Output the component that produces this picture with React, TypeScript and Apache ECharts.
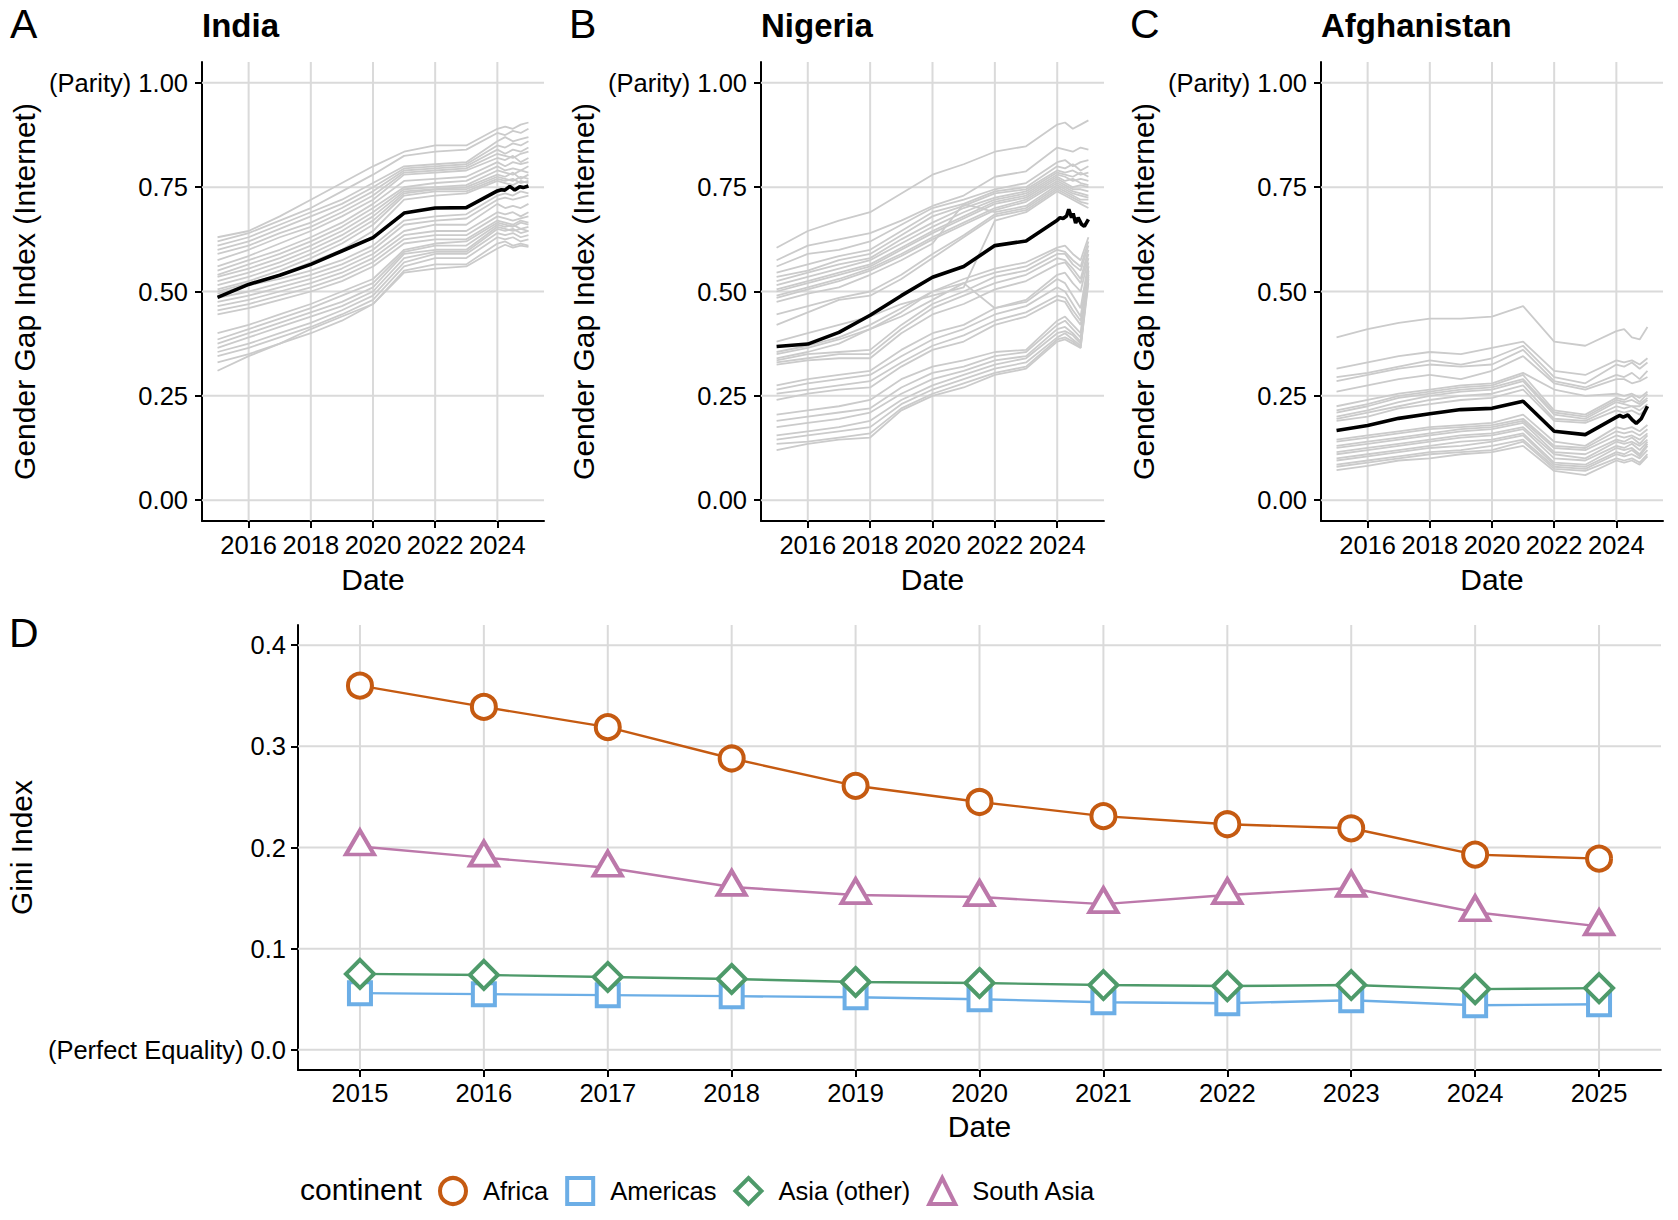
import React, { useEffect, useRef } from "react";
import * as echarts from "echarts";

// ---------------- data ----------------
const GAP_YEARS = [2015, 2016, 2017, 2018, 2019, 2020, 2021, 2022, 2023, 2024, 2024.25, 2024.5, 2024.75, 2025];
const GAP_X_TICKS = [2016, 2018, 2020, 2022, 2024];
const GAP_Y_TICKS = [0, 0.25, 0.5, 0.75, 1];
const GAP_COUNTRIES = ["India", "Nigeria", "Afghanistan"];
const PANEL_LETTERS = ["A", "B", "C", "D"];

const INDIA_X = [2015, 2016, 2017, 2018, 2019, 2020, 2021, 2022, 2023, 2024, 2024.13, 2024.24, 2024.4, 2024.56, 2024.72, 2024.83, 2025];
const INDIA_Y = [0.486, 0.517, 0.539, 0.565, 0.597, 0.629, 0.688, 0.700, 0.701, 0.741, 0.744, 0.743, 0.752, 0.743, 0.751, 0.749, 0.753];

const NIGERIA_X = [2015, 2016, 2017, 2018, 2019, 2020, 2021, 2022, 2023, 2024, 2024.09, 2024.19, 2024.3, 2024.37, 2024.46, 2024.51, 2024.59, 2024.67, 2024.78, 2024.87, 2025];
const NIGERIA_Y = [0.368, 0.374, 0.402, 0.443, 0.490, 0.534, 0.560, 0.610, 0.621, 0.671, 0.677, 0.675, 0.681, 0.697, 0.677, 0.687, 0.664, 0.677, 0.661, 0.656, 0.673];

const AFGHANISTAN_X = [2015, 2016, 2017, 2018, 2019, 2020, 2021, 2022, 2023, 2024, 2024.11, 2024.22, 2024.37, 2024.53, 2024.64, 2024.8, 2024.9, 2025];
const AFGHANISTAN_Y = [0.167, 0.179, 0.196, 0.207, 0.217, 0.220, 0.237, 0.165, 0.157, 0.199, 0.203, 0.199, 0.204, 0.191, 0.184, 0.195, 0.210, 0.225];

const GRAY_INDIA = [
  [0.63, 0.645, 0.68, 0.72, 0.76, 0.80, 0.835, 0.85, 0.85, 0.89, 0.895, 0.89, 0.90, 0.905],
  [0.62, 0.64, 0.67, 0.70, 0.74, 0.78, 0.825, 0.835, 0.84, 0.88, 0.875, 0.885, 0.88, 0.89],
  [0.61, 0.63, 0.66, 0.69, 0.72, 0.76, 0.80, 0.805, 0.81, 0.86, 0.87, 0.86, 0.865, 0.87],
  [0.60, 0.62, 0.65, 0.68, 0.71, 0.75, 0.795, 0.80, 0.805, 0.85, 0.845, 0.855, 0.85, 0.86],
  [0.59, 0.61, 0.64, 0.665, 0.70, 0.74, 0.79, 0.795, 0.80, 0.84, 0.83, 0.84, 0.835, 0.845],
  [0.575, 0.60, 0.63, 0.655, 0.69, 0.73, 0.785, 0.79, 0.795, 0.83, 0.825, 0.82, 0.83, 0.835],
  [0.56, 0.585, 0.615, 0.645, 0.68, 0.72, 0.78, 0.785, 0.79, 0.82, 0.815, 0.825, 0.81, 0.82],
  [0.55, 0.575, 0.60, 0.63, 0.665, 0.71, 0.765, 0.77, 0.775, 0.81, 0.80, 0.81, 0.805, 0.81],
  [0.54, 0.565, 0.59, 0.62, 0.655, 0.70, 0.75, 0.76, 0.765, 0.80, 0.79, 0.795, 0.79, 0.80],
  [0.535, 0.555, 0.58, 0.61, 0.645, 0.69, 0.745, 0.75, 0.755, 0.79, 0.785, 0.78, 0.79, 0.785],
  [0.525, 0.545, 0.57, 0.60, 0.635, 0.68, 0.74, 0.745, 0.75, 0.78, 0.775, 0.785, 0.77, 0.78],
  [0.515, 0.535, 0.56, 0.59, 0.625, 0.67, 0.735, 0.745, 0.745, 0.775, 0.77, 0.765, 0.775, 0.77],
  [0.505, 0.525, 0.55, 0.58, 0.615, 0.66, 0.73, 0.74, 0.74, 0.77, 0.765, 0.77, 0.76, 0.765],
  [0.50, 0.52, 0.54, 0.57, 0.60, 0.645, 0.72, 0.73, 0.735, 0.765, 0.76, 0.755, 0.765, 0.76],
  [0.495, 0.515, 0.53, 0.55, 0.575, 0.61, 0.67, 0.68, 0.685, 0.73, 0.735, 0.73, 0.74, 0.735],
  [0.485, 0.50, 0.52, 0.54, 0.565, 0.60, 0.66, 0.67, 0.675, 0.72, 0.725, 0.72, 0.725, 0.73],
  [0.475, 0.49, 0.51, 0.53, 0.555, 0.59, 0.645, 0.66, 0.66, 0.71, 0.70, 0.705, 0.70, 0.71],
  [0.465, 0.48, 0.50, 0.52, 0.545, 0.58, 0.635, 0.645, 0.645, 0.69, 0.685, 0.69, 0.68, 0.69],
  [0.455, 0.47, 0.49, 0.51, 0.535, 0.57, 0.625, 0.635, 0.635, 0.68, 0.675, 0.67, 0.675, 0.68],
  [0.445, 0.46, 0.48, 0.50, 0.525, 0.56, 0.615, 0.625, 0.625, 0.67, 0.665, 0.66, 0.67, 0.665],
  [0.40, 0.42, 0.445, 0.47, 0.50, 0.53, 0.60, 0.615, 0.62, 0.665, 0.66, 0.655, 0.665, 0.66],
  [0.385, 0.41, 0.435, 0.46, 0.49, 0.52, 0.595, 0.61, 0.61, 0.66, 0.655, 0.66, 0.65, 0.655],
  [0.375, 0.40, 0.425, 0.45, 0.475, 0.51, 0.59, 0.60, 0.60, 0.655, 0.65, 0.645, 0.65, 0.645],
  [0.365, 0.39, 0.415, 0.44, 0.465, 0.50, 0.58, 0.595, 0.595, 0.65, 0.645, 0.65, 0.64, 0.645],
  [0.355, 0.375, 0.40, 0.425, 0.455, 0.49, 0.57, 0.59, 0.59, 0.64, 0.635, 0.64, 0.63, 0.635],
  [0.345, 0.365, 0.39, 0.415, 0.445, 0.48, 0.56, 0.58, 0.58, 0.63, 0.625, 0.63, 0.62, 0.625],
  [0.33, 0.35, 0.375, 0.40, 0.43, 0.47, 0.55, 0.565, 0.565, 0.615, 0.62, 0.61, 0.615, 0.61],
  [0.31, 0.345, 0.375, 0.41, 0.44, 0.47, 0.545, 0.555, 0.56, 0.603, 0.612, 0.605, 0.61, 0.607],
];

const GRAY_NIGERIA = [
  [0.605, 0.645, 0.67, 0.69, 0.735, 0.78, 0.805, 0.835, 0.848, 0.90, 0.905, 0.89, 0.90, 0.91],
  [0.575, 0.61, 0.625, 0.64, 0.67, 0.705, 0.73, 0.775, 0.788, 0.845, 0.84, 0.835, 0.845, 0.84],
  [0.56, 0.59, 0.60, 0.62, 0.66, 0.70, 0.72, 0.745, 0.76, 0.81, 0.815, 0.80, 0.81, 0.815],
  [0.545, 0.565, 0.585, 0.60, 0.645, 0.69, 0.71, 0.74, 0.75, 0.80, 0.795, 0.805, 0.79, 0.80],
  [0.535, 0.55, 0.575, 0.59, 0.635, 0.68, 0.705, 0.735, 0.745, 0.79, 0.785, 0.79, 0.78, 0.785],
  [0.525, 0.545, 0.565, 0.58, 0.625, 0.665, 0.70, 0.725, 0.74, 0.785, 0.78, 0.775, 0.785, 0.775],
  [0.515, 0.535, 0.555, 0.575, 0.615, 0.655, 0.69, 0.72, 0.735, 0.78, 0.775, 0.765, 0.77, 0.765],
  [0.505, 0.525, 0.545, 0.565, 0.605, 0.645, 0.68, 0.715, 0.73, 0.775, 0.765, 0.77, 0.76, 0.755],
  [0.50, 0.52, 0.54, 0.56, 0.60, 0.64, 0.675, 0.71, 0.725, 0.77, 0.76, 0.75, 0.755, 0.75],
  [0.49, 0.51, 0.53, 0.555, 0.59, 0.63, 0.665, 0.70, 0.72, 0.765, 0.755, 0.745, 0.745, 0.74],
  [0.485, 0.505, 0.525, 0.55, 0.585, 0.625, 0.66, 0.695, 0.715, 0.76, 0.75, 0.74, 0.735, 0.73],
  [0.475, 0.495, 0.51, 0.54, 0.575, 0.615, 0.71, 0.69, 0.705, 0.755, 0.745, 0.735, 0.73, 0.725],
  [0.445, 0.465, 0.485, 0.50, 0.54, 0.59, 0.635, 0.685, 0.70, 0.75, 0.74, 0.73, 0.72, 0.72],
  [0.42, 0.45, 0.48, 0.49, 0.53, 0.58, 0.63, 0.68, 0.695, 0.745, 0.735, 0.725, 0.715, 0.71],
  [0.38, 0.40, 0.42, 0.44, 0.47, 0.49, 0.51, 0.67, 0.69, 0.74, 0.73, 0.72, 0.71, 0.70],
  [0.355, 0.37, 0.39, 0.42, 0.46, 0.50, 0.53, 0.555, 0.57, 0.605, 0.61, 0.59, 0.575, 0.63],
  [0.34, 0.355, 0.375, 0.41, 0.44, 0.48, 0.52, 0.545, 0.56, 0.60, 0.595, 0.575, 0.56, 0.62],
  [0.335, 0.35, 0.355, 0.36, 0.42, 0.47, 0.50, 0.535, 0.55, 0.59, 0.59, 0.565, 0.55, 0.61],
  [0.33, 0.34, 0.35, 0.35, 0.41, 0.46, 0.49, 0.52, 0.54, 0.58, 0.575, 0.555, 0.53, 0.60],
  [0.325, 0.335, 0.34, 0.34, 0.40, 0.445, 0.47, 0.505, 0.525, 0.565, 0.57, 0.545, 0.52, 0.59],
  [0.35, 0.365, 0.385, 0.41, 0.45, 0.50, 0.52, 0.46, 0.48, 0.54, 0.545, 0.52, 0.50, 0.58],
  [0.275, 0.29, 0.30, 0.31, 0.36, 0.40, 0.42, 0.46, 0.475, 0.53, 0.52, 0.49, 0.46, 0.57],
  [0.265, 0.28, 0.29, 0.30, 0.345, 0.385, 0.41, 0.445, 0.465, 0.51, 0.50, 0.47, 0.44, 0.56],
  [0.255, 0.265, 0.275, 0.285, 0.33, 0.37, 0.395, 0.43, 0.45, 0.49, 0.485, 0.455, 0.43, 0.55],
  [0.24, 0.255, 0.265, 0.27, 0.32, 0.36, 0.38, 0.42, 0.44, 0.48, 0.475, 0.445, 0.42, 0.54],
  [0.205, 0.215, 0.225, 0.24, 0.29, 0.32, 0.335, 0.355, 0.36, 0.43, 0.44, 0.42, 0.40, 0.56],
  [0.19, 0.20, 0.21, 0.22, 0.27, 0.305, 0.32, 0.345, 0.355, 0.42, 0.43, 0.41, 0.39, 0.55],
  [0.175, 0.185, 0.195, 0.21, 0.255, 0.29, 0.31, 0.335, 0.345, 0.41, 0.415, 0.40, 0.38, 0.545],
  [0.155, 0.165, 0.175, 0.19, 0.24, 0.275, 0.30, 0.325, 0.34, 0.40, 0.405, 0.395, 0.375, 0.54],
  [0.145, 0.155, 0.165, 0.175, 0.23, 0.265, 0.29, 0.315, 0.33, 0.39, 0.40, 0.385, 0.37, 0.535],
  [0.135, 0.14, 0.15, 0.16, 0.22, 0.255, 0.28, 0.305, 0.32, 0.385, 0.39, 0.38, 0.365, 0.53],
  [0.12, 0.135, 0.145, 0.15, 0.215, 0.25, 0.27, 0.30, 0.315, 0.38, 0.385, 0.375, 0.365, 0.52],
];

const GRAY_AFGHANISTAN = [
  [0.39, 0.41, 0.425, 0.435, 0.435, 0.44, 0.465, 0.38, 0.37, 0.405, 0.41, 0.39, 0.385, 0.415],
  [0.315, 0.33, 0.345, 0.355, 0.35, 0.365, 0.38, 0.31, 0.30, 0.335, 0.33, 0.335, 0.325, 0.34],
  [0.295, 0.305, 0.32, 0.335, 0.325, 0.34, 0.37, 0.295, 0.28, 0.325, 0.32, 0.33, 0.315, 0.33],
  [0.285, 0.30, 0.315, 0.325, 0.32, 0.325, 0.36, 0.285, 0.27, 0.30, 0.295, 0.305, 0.29, 0.31],
  [0.26, 0.275, 0.29, 0.30, 0.29, 0.31, 0.345, 0.28, 0.265, 0.29, 0.29, 0.28, 0.285, 0.295],
  [0.225, 0.24, 0.255, 0.265, 0.275, 0.28, 0.305, 0.265, 0.25, 0.255, 0.25, 0.255, 0.245, 0.26],
  [0.215, 0.23, 0.25, 0.26, 0.27, 0.275, 0.30, 0.215, 0.205, 0.245, 0.24, 0.25, 0.235, 0.255],
  [0.21, 0.225, 0.245, 0.255, 0.265, 0.27, 0.29, 0.21, 0.20, 0.24, 0.235, 0.24, 0.23, 0.245],
  [0.20, 0.215, 0.235, 0.25, 0.26, 0.265, 0.285, 0.205, 0.195, 0.235, 0.23, 0.225, 0.225, 0.24],
  [0.195, 0.21, 0.225, 0.24, 0.25, 0.255, 0.275, 0.195, 0.19, 0.225, 0.22, 0.225, 0.215, 0.23],
  [0.19, 0.20, 0.22, 0.23, 0.24, 0.245, 0.265, 0.19, 0.185, 0.215, 0.21, 0.215, 0.205, 0.22],
  [0.145, 0.155, 0.165, 0.175, 0.18, 0.185, 0.205, 0.14, 0.13, 0.175, 0.17, 0.175, 0.165, 0.18],
  [0.14, 0.15, 0.16, 0.17, 0.175, 0.18, 0.195, 0.13, 0.125, 0.165, 0.16, 0.165, 0.155, 0.17],
  [0.13, 0.14, 0.15, 0.16, 0.17, 0.175, 0.19, 0.125, 0.12, 0.155, 0.15, 0.155, 0.145, 0.16],
  [0.125, 0.135, 0.145, 0.155, 0.165, 0.17, 0.185, 0.115, 0.11, 0.145, 0.14, 0.15, 0.135, 0.155],
  [0.115, 0.125, 0.135, 0.145, 0.155, 0.16, 0.175, 0.11, 0.10, 0.14, 0.135, 0.14, 0.13, 0.145],
  [0.11, 0.12, 0.13, 0.14, 0.15, 0.155, 0.17, 0.10, 0.095, 0.13, 0.125, 0.135, 0.12, 0.14],
  [0.10, 0.11, 0.12, 0.13, 0.14, 0.145, 0.16, 0.09, 0.085, 0.125, 0.12, 0.125, 0.11, 0.135],
  [0.095, 0.105, 0.115, 0.125, 0.13, 0.14, 0.155, 0.085, 0.08, 0.115, 0.11, 0.12, 0.105, 0.13],
  [0.085, 0.095, 0.105, 0.115, 0.12, 0.13, 0.145, 0.08, 0.075, 0.11, 0.105, 0.11, 0.10, 0.12],
  [0.08, 0.09, 0.10, 0.11, 0.115, 0.12, 0.14, 0.075, 0.07, 0.10, 0.095, 0.10, 0.09, 0.11],
  [0.072, 0.082, 0.095, 0.10, 0.11, 0.115, 0.13, 0.07, 0.06, 0.095, 0.09, 0.095, 0.085, 0.105],
];

const GINI_YEARS = [2015, 2016, 2017, 2018, 2019, 2020, 2021, 2022, 2023, 2024, 2025];
const GINI_Y_TICKS = [0, 0.1, 0.2, 0.3, 0.4];
const CONTINENTS = ["Africa", "Americas", "Asia (other)", "South Asia"];
const GINI_AFRICA = [0.360, 0.339, 0.319, 0.288, 0.261, 0.245, 0.231, 0.223, 0.219, 0.193, 0.189];
const GINI_AMERICAS = [0.056, 0.055, 0.054, 0.053, 0.052, 0.050, 0.047, 0.046, 0.049, 0.044, 0.045];
const GINI_ASIA_OTHER = [0.075, 0.074, 0.072, 0.070, 0.067, 0.066, 0.064, 0.063, 0.064, 0.060, 0.061];
const GINI_SOUTH_ASIA = [0.201, 0.190, 0.180, 0.161, 0.153, 0.151, 0.144, 0.153, 0.160, 0.136, 0.122];

// ---------------- layout & style ----------------
const FONT = "'Liberation Sans', Arial, Helvetica, sans-serif";
const GRID_COLOR = "#dadada";
const GRAY_LINE = "#cbcbcb";
const CONTINENT_COLORS = ["#C55A11", "#6CAEE6", "#4E9A6A", "#BC78AA"];
const CONTINENT_SYMBOLS = ["circle", "rect", "diamond", "triangle"];
const CONTINENT_SIZES: any[] = [24, 22, 28, [28, 24]];
const CONTINENT_OFFSETS: any[] = [[0, 0], [0, 0], [0, 0], [0, -4]];

const GAP_GRIDS = [
  { left: 202, top: 62, width: 342, height: 459 },
  { left: 761, top: 62, width: 343, height: 459 },
  { left: 1321, top: 62, width: 342, height: 459 },
];
const GINI_GRID = { left: 298, top: 625, width: 1363, height: 445 };
const LETTER_POS = [[10, 24], [569, 24], [1130, 24], [9, 633]];

function buildOption() {
  const grids: any[] = [];
  const xAxes: any[] = [];
  const yAxes: any[] = [];
  const series: any[] = [];
  const graphic: any[] = [];

  const axisLine = { show: true, onZero: false, lineStyle: { color: "#000", width: 2 } };
  const tickStyle = { color: "#000", width: 2 };
  const labelBase = { fontSize: 25.5, color: "#000", fontFamily: FONT };
  const nameStyle = { fontSize: 30, color: "#000", fontFamily: FONT };

  const addGridLines = (idx: number, xt: number[], yt: number[], xr: number[], yr: number[]) => {
    xt.forEach((x) =>
      series.push({
        type: "line", xAxisIndex: idx, yAxisIndex: idx, data: [[x, yr[0]], [x, yr[1]]],
        symbol: "none", silent: true, z: 1, lineStyle: { color: GRID_COLOR, width: 2 },
        emphasis: { disabled: true },
      })
    );
    yt.forEach((y) =>
      series.push({
        type: "line", xAxisIndex: idx, yAxisIndex: idx, data: [[xr[0], y], [xr[1], y]],
        symbol: "none", silent: true, z: 1, lineStyle: { color: GRID_COLOR, width: 2 },
        emphasis: { disabled: true },
      })
    );
  };

  const gapX = [2014.5, 2025.5];
  const gapY = [-0.05, 1.05];
  const grays = [GRAY_INDIA, GRAY_NIGERIA, GRAY_AFGHANISTAN];
  const blacksX = [INDIA_X, NIGERIA_X, AFGHANISTAN_X];
  const blacksY = [INDIA_Y, NIGERIA_Y, AFGHANISTAN_Y];

  GAP_GRIDS.forEach((g, i) => {
    grids.push({ ...g, outerBoundsMode: "none", containLabel: false });
    xAxes.push({
      type: "value", gridIndex: i, min: gapX[0], max: gapX[1],
      name: "Date", nameLocation: "middle", nameGap: 43, nameTextStyle: nameStyle,
      axisLine,
      axisTick: { show: true, customValues: GAP_X_TICKS, length: 7, lineStyle: tickStyle },
      axisLabel: { ...labelBase, show: true, customValues: GAP_X_TICKS, margin: 11, formatter: (v: number) => String(Math.round(v)) },
      splitLine: { show: false },
    });
    yAxes.push({
      type: "value", gridIndex: i, min: gapY[0], max: gapY[1],
      name: "Gender Gap Index (Internet)", nameLocation: "middle", nameRotate: 90, nameGap: 163,
      nameTextStyle: nameStyle,
      axisLine,
      axisTick: { show: true, customValues: GAP_Y_TICKS, length: 7, lineStyle: tickStyle },
      axisLabel: {
        ...labelBase, show: true, customValues: GAP_Y_TICKS, margin: 14,
        formatter: (v: number) => (Math.abs(v - 1) < 1e-9 ? "(Parity) 1.00" : v.toFixed(2)),
      },
      splitLine: { show: false },
    });
    addGridLines(i, GAP_X_TICKS, GAP_Y_TICKS, gapX, gapY);
    grays[i].forEach((vals) =>
      series.push({
        type: "line", xAxisIndex: i, yAxisIndex: i,
        data: GAP_YEARS.map((x, j) => [x, vals[j]]),
        symbol: "none", silent: true, z: 2, lineStyle: { color: GRAY_LINE, width: 1.8 },
        emphasis: { disabled: true },
      })
    );
    series.push({
      type: "line", xAxisIndex: i, yAxisIndex: i,
      data: blacksX[i].map((x, j) => [x, blacksY[i][j]]),
      symbol: "none", silent: true, z: 3, lineStyle: { color: "#000", width: 3.6 },
      emphasis: { disabled: true },
    });
    graphic.push({
      type: "text", x: g.left, y: 25,
      style: { text: GAP_COUNTRIES[i], fontSize: 33, fontWeight: "bold", fontFamily: FONT, fill: "#000", align: "left", verticalAlign: "middle", lineHeight: 34 },
    });
  });

  // Panel D
  const gi = 3;
  const giniX = [2014.5, 2025.5];
  const giniY = [-0.02, 0.42];
  grids.push({ ...GINI_GRID, outerBoundsMode: "none", containLabel: false });
  xAxes.push({
    type: "value", gridIndex: gi, min: giniX[0], max: giniX[1],
    name: "Date", nameLocation: "middle", nameGap: 41, nameTextStyle: nameStyle,
    axisLine,
    axisTick: { show: true, customValues: GINI_YEARS, length: 7, lineStyle: tickStyle },
    axisLabel: { ...labelBase, show: true, customValues: GINI_YEARS, margin: 10, formatter: (v: number) => String(Math.round(v)) },
    splitLine: { show: false },
  });
  yAxes.push({
    type: "value", gridIndex: gi, min: giniY[0], max: giniY[1],
    name: "Gini Index", nameLocation: "middle", nameRotate: 90, nameGap: 251, nameTextStyle: nameStyle,
    axisLine,
    axisTick: { show: true, customValues: GINI_Y_TICKS, length: 7, lineStyle: tickStyle },
    axisLabel: {
      ...labelBase, show: true, customValues: GINI_Y_TICKS, margin: 12,
      formatter: (v: number) => (Math.abs(v) < 1e-9 ? "(Perfect Equality) 0.0" : v.toFixed(1)),
    },
    splitLine: { show: false },
  });
  addGridLines(gi, GINI_YEARS, GINI_Y_TICKS, giniX, giniY);
  const giniVals = [GINI_AFRICA, GINI_AMERICAS, GINI_ASIA_OTHER, GINI_SOUTH_ASIA];
  CONTINENTS.forEach((name, k) => {
    series.push({
      type: "line", name, xAxisIndex: gi, yAxisIndex: gi,
      data: GINI_YEARS.map((x, j) => [x, giniVals[k][j]]),
      symbol: CONTINENT_SYMBOLS[k], symbolSize: CONTINENT_SIZES[k], symbolOffset: CONTINENT_OFFSETS[k],
      showSymbol: true, silent: true, z: 3 + k,
      itemStyle: { color: "#ffffff", borderColor: CONTINENT_COLORS[k], borderWidth: 4 },
      lineStyle: { color: CONTINENT_COLORS[k], width: 2.4 },
      emphasis: { disabled: true },
    });
  });

  PANEL_LETTERS.forEach((l, i) =>
    graphic.push({
      type: "text", x: LETTER_POS[i][0], y: LETTER_POS[i][1],
      style: { text: l, fontSize: 41, fontFamily: FONT, fill: "#000", align: "left", verticalAlign: "middle", lineHeight: 42 },
    })
  );
  graphic.push({
    type: "text", x: 300, y: 1189,
    style: { text: "continent", fontSize: 30, fontFamily: FONT, fill: "#000", align: "left", verticalAlign: "middle" },
  });

  return {
    animation: false,
    backgroundColor: "#ffffff",
    textStyle: { fontFamily: FONT },
    grid: grids,
    xAxis: xAxes,
    yAxis: yAxes,
    series,
    graphic,
    legend: {
      show: true, orient: "horizontal", left: 438, top: 1176, padding: 0,
      itemWidth: 26, itemHeight: 26, itemGap: 17, selectedMode: false,
      textStyle: { fontSize: 25.5, color: "#000", fontFamily: FONT, padding: [0, 0, 0, 12] },
      data: CONTINENTS.map((name, k) => ({
        name, icon: CONTINENT_SYMBOLS[k],
        itemStyle: { color: "#ffffff", borderColor: CONTINENT_COLORS[k], borderWidth: 4 },
      })),
    },
  };
}

export default function App() {
  const ref = useRef<HTMLDivElement>(null);
  useEffect(() => {
    if (!ref.current) return;
    const chart = echarts.init(ref.current, null, { renderer: "svg" });
    chart.setOption(buildOption() as any);
    return () => chart.dispose();
  }, []);
  return (
    <div
      ref={ref}
      style={{ position: "absolute", left: 0, top: 0, width: 1678, height: 1220, background: "#fff" }}
    />
  );
}
